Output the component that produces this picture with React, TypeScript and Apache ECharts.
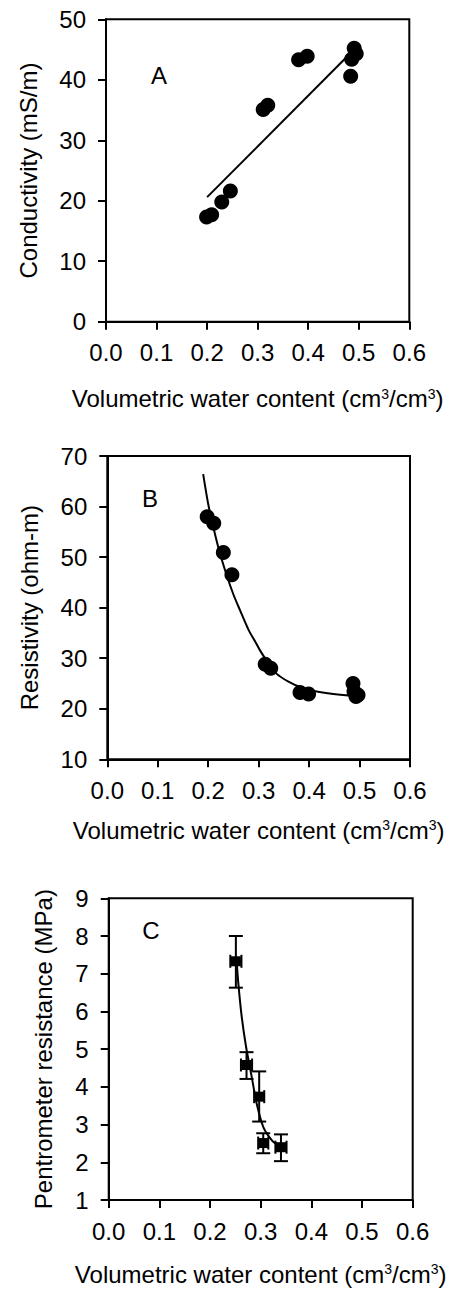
import React, { useEffect, useRef } from "react";
import * as echarts from "echarts";

// Panel A: conductivity vs volumetric water content
const condX = [0.199, 0.209, 0.229, 0.246, 0.311, 0.32, 0.381, 0.398, 0.484, 0.486, 0.491, 0.495];
const condY = [17.3, 17.7, 19.8, 21.6, 35.1, 35.8, 43.3, 43.9, 40.6, 43.4, 45.2, 44.3];
const condFitX = [0.2, 0.485];
const condFitY = [20.6, 44.5];

// Panel B: resistivity vs volumetric water content
const resX = [0.198, 0.211, 0.23, 0.247, 0.313, 0.324, 0.382, 0.399, 0.487, 0.489, 0.493, 0.497];
const resY = [58.0, 56.7, 50.9, 46.5, 28.8, 28.0, 23.2, 22.9, 25.0, 23.4, 22.4, 22.7];
const resFitX = [0.19, 0.2, 0.21, 0.222, 0.237, 0.25, 0.263, 0.28, 0.2925, 0.303, 0.316, 0.336, 0.36, 0.382, 0.41, 0.448, 0.49];
const resFitY = [66.4, 60.5, 56.0, 51.2, 46.3, 42.6, 39.5, 35.6, 33.4, 31.5, 29.5, 26.9, 25.3, 24.3, 23.5, 22.9, 22.5];

// Panel C: penetrometer resistance vs volumetric water content
const penX = [0.251, 0.272, 0.297, 0.305, 0.34];
const penY = [7.33, 4.58, 3.74, 2.51, 2.4];
const penLow = [6.63, 4.21, 3.08, 2.24, 2.03];
const penHigh = [8.0, 4.92, 4.41, 2.77, 2.74];
const penXErr = [0.011, 0.011, 0.01, 0.01, 0.011];
const penFitX = [0.2526, 0.2558, 0.2625, 0.271, 0.2822, 0.292, 0.305, 0.3217, 0.338];
const penFitY = [7.32, 6.75, 5.86, 5.07, 4.27, 3.56, 2.94, 2.59, 2.41];

const xTicks = [0, 0.1, 0.2, 0.3, 0.4, 0.5, 0.6];

const FONT = "'Liberation Sans', Arial, Helvetica, sans-serif";
const FS = 24;
const xName = "Volumetric water content (cm{s|3}/cm{s|3})";

function xAxisFor(gridIndex: number, nameGap: number) {
  return {
    type: "value",
    gridIndex,
    min: xTicks[0],
    max: xTicks[xTicks.length - 1],
    interval: 0.1,
    name: xName,
    nameLocation: "middle",
    nameGap,
    nameTextStyle: {
      color: "#000",
      fontFamily: FONT,
      fontSize: FS,
      rich: { s: { fontSize: 14, verticalAlign: "top", color: "#000", fontFamily: FONT, padding: [0, 0, 8, 0] } },
    },
    axisLine: { show: true, onZero: false, lineStyle: { color: "#000", width: 2 } },
    axisTick: { show: true, inside: false, length: 8, lineStyle: { color: "#000", width: 2 } },
    axisLabel: {
      color: "#000",
      fontFamily: FONT,
      fontSize: FS,
      margin: 19,
      formatter: (v: number) => v.toFixed(1),
    },
    splitLine: { show: false },
  };
}

function yAxisFor(gridIndex: number, min: number, max: number, interval: number, name: string, nameGap: number) {
  return {
    type: "value",
    gridIndex,
    min,
    max,
    interval,
    name,
    nameLocation: "middle",
    nameGap,
    nameRotate: 90,
    nameTextStyle: { color: "#000", fontFamily: FONT, fontSize: FS },
    axisLine: { show: true, onZero: false, lineStyle: { color: "#000", width: 2 } },
    axisTick: { show: true, inside: false, length: 8, lineStyle: { color: "#000", width: 2 } },
    axisLabel: { color: "#000", fontFamily: FONT, fontSize: FS, margin: 20 },
    splitLine: { show: false },
  };
}

function zip(xs: number[], ys: number[]) {
  return xs.map((x, i) => [x, ys[i]]);
}

export default function App() {
  const ref = useRef<HTMLDivElement>(null);
  useEffect(() => {
    if (!ref.current) return;
    const chart = echarts.init(ref.current, undefined, { renderer: "svg" });
    const gridBase = { show: true, borderColor: "#000", borderWidth: 2, backgroundColor: "transparent", containLabel: false };
    const option: any = {
      animation: false,
      backgroundColor: "#fff",
      grid: [
        { ...gridBase, left: 106, top: 19.3, width: 303.3, height: 302.4 },
        { ...gridBase, left: 107.3, top: 456, width: 302.7, height: 303.3 },
        { ...gridBase, left: 108.7, top: 898.3, width: 304, height: 301.7 },
      ],
      xAxis: [xAxisFor(0, 65), xAxisFor(1, 59), xAxisFor(2, 62)],
      yAxis: [
        yAxisFor(0, 0, 50, 10, "Conductivity (mS/m)", 66),
        yAxisFor(1, 10, 70, 10, "Resistivity (ohm-m)", 66),
        yAxisFor(2, 1, 9, 1, "Pentrometer resistance (MPa)", 53),
      ],
      graphic: [
        { type: "text", x: 159, y: 75, style: { text: "A", fontFamily: FONT, fontSize: FS, fill: "#000", align: "center", verticalAlign: "middle" } },
        { type: "text", x: 150, y: 498, style: { text: "B", fontFamily: FONT, fontSize: FS, fill: "#000", align: "center", verticalAlign: "middle" } },
        { type: "text", x: 151, y: 930, style: { text: "C", fontFamily: FONT, fontSize: FS, fill: "#000", align: "center", verticalAlign: "middle" } },
      ],
      series: [
        {
          type: "line",
          xAxisIndex: 0,
          yAxisIndex: 0,
          data: zip(condFitX, condFitY),
          symbol: "none",
          lineStyle: { color: "#000", width: 2 },
          z: 3,
        },
        {
          type: "scatter",
          xAxisIndex: 0,
          yAxisIndex: 0,
          data: zip(condX, condY),
          symbol: "circle",
          symbolSize: 15,
          itemStyle: { color: "#000", opacity: 1 },
          z: 4,
        },
        {
          type: "line",
          xAxisIndex: 1,
          yAxisIndex: 1,
          data: zip(resFitX, resFitY),
          symbol: "none",
          smooth: 0.3,
          lineStyle: { color: "#000", width: 2 },
          z: 3,
        },
        {
          type: "scatter",
          xAxisIndex: 1,
          yAxisIndex: 1,
          data: zip(resX, resY),
          symbol: "circle",
          symbolSize: 15,
          itemStyle: { color: "#000", opacity: 1 },
          z: 4,
        },
        {
          type: "line",
          xAxisIndex: 2,
          yAxisIndex: 2,
          data: zip(penFitX, penFitY),
          symbol: "none",
          smooth: 0.3,
          lineStyle: { color: "#000", width: 2 },
          z: 3,
        },
        {
          type: "custom",
          xAxisIndex: 2,
          yAxisIndex: 2,
          data: penX.map((x, i) => [x, penY[i], penLow[i], penHigh[i], penXErr[i]]),
          encode: { x: 0, y: 1 },
          z: 4,
          renderItem: (params: any, api: any) => {
            const x = api.value(0);
            const y = api.value(1);
            const lo = api.value(2);
            const hi = api.value(3);
            const xe = api.value(4);
            const pLo = api.coord([x, lo]);
            const pHi = api.coord([x, hi]);
            const pL = api.coord([x - xe, y]);
            const pR = api.coord([x + xe, y]);
            const capW = 7;
            const capH = 6.5;
            const style = { stroke: "#000", lineWidth: 2, fill: null };
            const ln = (x1: number, y1: number, x2: number, y2: number) => ({
              type: "line",
              shape: { x1, y1, x2, y2 },
              style,
            });
            return {
              type: "group",
              children: [
                ln(pLo[0], pLo[1], pHi[0], pHi[1]),
                ln(pLo[0] - capW, pLo[1], pLo[0] + capW, pLo[1]),
                ln(pHi[0] - capW, pHi[1], pHi[0] + capW, pHi[1]),
                ln(pL[0], pL[1], pR[0], pR[1]),
                ln(pL[0], pL[1] - capH, pL[0], pL[1] + capH),
                ln(pR[0], pR[1] - capH, pR[0], pR[1] + capH),
              ],
            };
          },
        },
        {
          type: "scatter",
          xAxisIndex: 2,
          yAxisIndex: 2,
          data: zip(penX, penY),
          symbol: "rect",
          symbolSize: 10,
          itemStyle: { color: "#000", opacity: 1 },
          z: 5,
        },
      ],
    };
    chart.setOption(option);
    return () => {
      chart.dispose();
    };
  }, []);
  return (
    <div
      ref={ref}
      style={{ position: "absolute", left: 0, top: 0, width: 452, height: 1289, background: "#fff" }}
    />
  );
}
